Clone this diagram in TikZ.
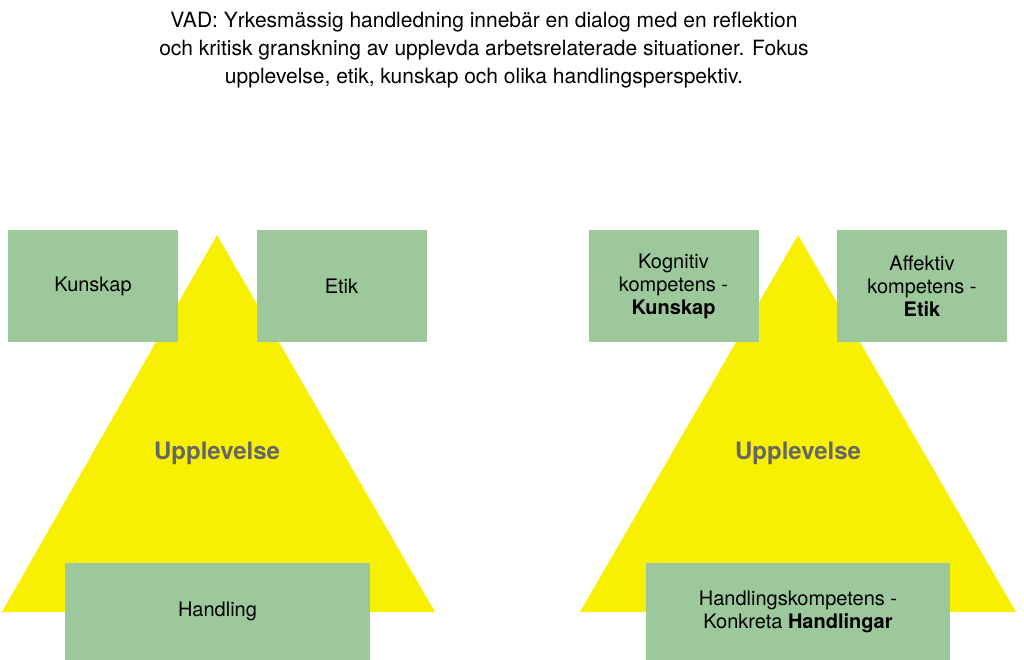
\documentclass[tikz,border=0pt]{standalone}
\usepackage{fontspec}
\setmainfont{TeX Gyre Heros}
\begin{document}
\begin{tikzpicture}[x=1pt,y=-1pt]
\definecolor{boxg}{HTML}{9DC89C}
\definecolor{yel}{HTML}{F7F000}
\tikzset{tri/.style={fill=yel,draw=none},
 bx/.style={fill=boxg,draw=none,inner sep=0},
 lbl/.style={align=center,font=\fontsize{20}{23}\selectfont},
 up/.style={font=\fontsize{24}{28}\selectfont\bfseries,text=black!60}}
\useasboundingbox (0,0) rectangle (1024,660);
\fill[tri] (217,235) -- (435,612) -- (2,612) -- cycle;
\fill[tri] (798,235) -- (1016,612) -- (580,612) -- cycle;
\node[bx,minimum width=170,minimum height=112] (k) at (93,286) {};
\node[bx,minimum width=170,minimum height=112] (e) at (341.5,286) {};
\node[bx,minimum width=305,minimum height=97] (h) at (217.5,611.5) {};
\node[bx,minimum width=170,minimum height=112] (k2) at (673.5,286) {};
\node[bx,minimum width=170,minimum height=112] (e2) at (922,286) {};
\node[bx,minimum width=304,minimum height=97] (h2) at (798,611.5) {};
\node[lbl] at (k) {Kunskap};
\node[lbl] at (e) {Etik};
\node[lbl] at (h) {Handling};
\node[lbl] at (k2) {Kognitiv\\kompetens -\\\textbf{Kunskap}};
\node[lbl] at (e2) {Affektiv\\kompetens -\\\textbf{Etik}};
\node[lbl] at (h2) {Handlingskompetens -\\Konkreta \textbf{Handlingar}};
\node[up] (u1) at (217,453) {Upplevelse};
\node[up] (u2) at (798,453) {Upplevelse};
\node[lbl,font=\fontsize{21}{28}\selectfont] (t) at (484,50) {VAD: Yrkesmässig handledning innebär en dialog med en reflektion\\och kritisk granskning av upplevda arbetsrelaterade situationer. Fokus\\upplevelse, etik, kunskap och olika handlingsperspektiv.};
\end{tikzpicture}
\end{document}
